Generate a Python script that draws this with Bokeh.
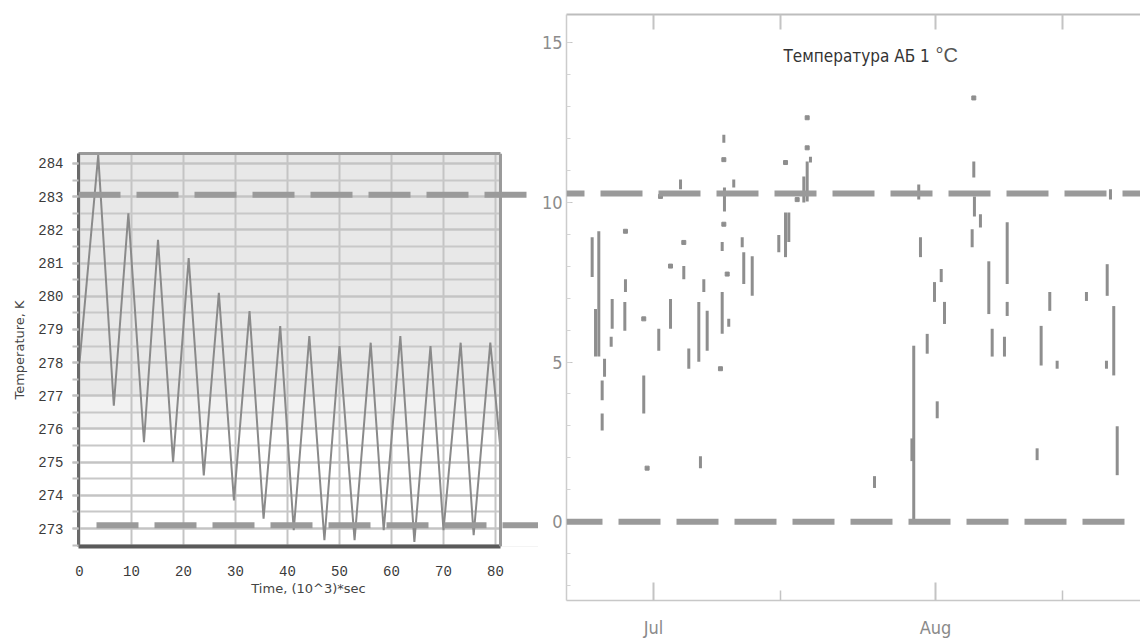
import numpy as np
import pandas as pd
from bokeh.plotting import figure
from bokeh.layouts import row
from bokeh.models import (Range1d, LinearAxis, FixedTicker, SingleIntervalTicker, Span,
                          Label, BoxAnnotation, DatetimeTickFormatter)
from bokeh.embed import file_html
from bokeh.resources import INLINE

# ---------------- left chart: temperature, K vs time (10^3 s) ----------------
time_1e3s = [0.0, 3.6, 6.6, 9.4, 12.4, 15.1, 18.0, 21.0, 23.9, 26.8, 29.7, 32.7, 35.4,
             38.6, 41.2, 44.2, 47.1, 50.0, 52.9, 56.0, 58.5, 61.7, 64.4, 67.5, 70.0,
             73.3, 75.8, 79.0, 80.9]
temp_K = [278.0, 284.25, 276.7, 282.5, 275.6, 281.7, 275.0, 281.15, 274.6, 280.1, 273.85,
          279.55, 273.3, 279.1, 272.95, 278.8, 272.65, 278.5, 272.65, 278.6, 272.95,
          278.8, 272.6, 278.5, 272.95, 278.6, 272.8, 278.6, 275.5]
ref_hi_K = 283.06
ref_lo_K = 273.10
ref_lo_start = 3.27

# ---------------- right chart: battery temperature, deg C ----------------
# days counted from 1 July
seg_day = [-6.74, -6.01, -6.37, -5.38, -5.64, -5.64, -4.54, -4.65, -3.08, -3.15, -1.07,
           0.58, 1.87, 2.97, 3.33, 3.88, 4.98, 5.16, 5.53, 5.90, 7.55, 7.73, 7.80, 7.55,
           8.27, 8.82, 9.75, 9.92, 10.85, 13.77, 14.51, 14.87, 16.52, 16.89, 17.25,
           24.29, 28.60, 28.40, 29.15, 29.34, 30.08, 31.18, 30.88, 31.62, 31.98, 35.20,
           35.27, 35.93, 35.02, 36.85, 37.22, 38.87, 38.87, 38.57, 42.16, 42.60, 43.55,
           44.36, 47.58, 49.86, 50.22, 50.58, 49.78, 50.96]
seg_hi = [8.90, 9.09, 6.66, 5.10, 4.42, 3.39, 6.97, 5.79, 7.59, 6.88, 4.58,
          6.04, 6.97, 10.71, 8.00, 5.42, 6.88, 2.05, 7.59, 6.60, 8.75, 12.11, 10.46, 7.19,
          6.35, 10.71, 8.90, 8.43, 8.31, 8.97, 9.68, 9.68, 10.80, 11.27, 11.42,
          1.43, 5.51, 2.61, 10.55, 8.90, 5.88, 3.77, 7.50, 7.91, 6.88, 11.27,
          10.18, 9.62, 9.15, 8.15, 6.04, 9.37, 6.88, 5.79, 2.30, 6.13, 7.19,
          5.04, 7.19, 8.06, 10.40, 6.75, 5.04, 2.99]
seg_lo = [7.66, 5.17, 5.17, 4.54, 3.80, 2.86, 6.04, 5.48, 7.19, 5.98, 3.39,
          5.35, 6.04, 10.40, 7.59, 4.79, 5.01, 1.68, 7.19, 5.35, 8.47, 11.86, 9.71, 5.88,
          6.10, 10.46, 8.59, 7.44, 7.07, 8.43, 8.28, 8.75, 9.99, 10.02, 11.24,
          1.06, 0.00, 1.90, 10.08, 8.28, 5.26, 3.24, 6.88, 7.50, 6.19, 10.77,
          9.55, 9.21, 8.59, 6.50, 5.17, 7.44, 6.44, 5.17, 1.93, 4.89, 6.60,
          4.79, 6.91, 7.07, 10.08, 4.58, 4.79, 1.46]
dot_day = [-3.08, -1.07, -0.70, 0.77, 1.87, 3.33, 7.36, 7.73, 7.73, 8.10, 14.51, 15.79,
           16.89, 16.89, 35.20]
dot_val = [9.09, 6.35, 1.68, 10.18, 8.00, 8.74, 4.79, 11.33, 9.31, 7.75, 11.24, 10.08,
           12.64, 11.70, 13.26]
ref_hi_C = 10.27
ref_lo_C = 0.0
month_start = "2013-07-01"
major_day = [0, 31]      # Jul 1, Aug 1
minor_day = [14, 45]     # Jul 15, Aug 15
title_text = "Температура АБ 1"
unit_text = "°C"

NARROW = "DejaVu Sans Condensed, Liberation Sans"
DASH_COLOR = "#9a9a9a"

# ======================= left figure =======================
x_end_left = 88.27
p1 = figure(width=538, height=606, x_range=Range1d(-0.19, x_end_left),
            y_range=Range1d(272.46, 284.30), output_backend="svg", toolbar_location=None,
            title=None, frame_align=False,
            min_border_left=78, min_border_right=0, min_border_top=153, min_border_bottom=60)
p1.outline_line_color = None
p1.background_fill_color = "white"

for b, t, c in [(277.0, 284.30, "#e8e8e8"), (276.0, 277.0, "#f2f2f2")]:
    p1.add_layout(BoxAnnotation(left=-0.19, right=80.96, bottom=b, top=t, fill_color=c,
                                fill_alpha=1, line_color=None, level="image"))

xa = p1.xaxis[0]
xa.bounds = (-0.19, 80.96)
xa.ticker = SingleIntervalTicker(interval=10, num_minor_ticks=0)
xa.axis_line_color = "#5a5a5a"
xa.axis_line_width = 4
xa.major_tick_line_color = None
xa.minor_tick_line_color = None
xa.major_label_text_font = "Liberation Mono"
xa.major_label_text_font_size = "14px"
xa.major_label_text_color = "#3a3a3a"
xa.major_label_standoff = 13
xa.axis_label = "Time, (10^3)*sec"
xa.axis_label_text_font = "DejaVu Sans"
xa.axis_label_text_font_size = "13px"
xa.axis_label_text_font_style = "normal"
xa.axis_label_text_color = "#444444"
xa.axis_label_standoff = 2

ya = p1.yaxis[0]
ya.ticker = SingleIntervalTicker(interval=1, num_minor_ticks=2)
ya.axis_line_color = "#6a6a6a"
ya.axis_line_width = 3
ya.major_tick_out = 6
ya.major_tick_in = 0
ya.minor_tick_out = 6
ya.minor_tick_in = 0
ya.major_tick_line_color = "#c0c0c0"
ya.minor_tick_line_color = "#c0c0c0"
ya.major_tick_line_width = 2
ya.minor_tick_line_width = 2
ya.major_label_text_font = "Liberation Mono"
ya.major_label_text_font_size = "14px"
ya.major_label_text_color = "#3a3a3a"
ya.major_label_standoff = 9
ya.axis_label = "Temperature, K"
ya.axis_label_text_font = "DejaVu Sans"
ya.axis_label_text_font_size = "13px"
ya.axis_label_text_font_style = "normal"
ya.axis_label_text_color = "#444444"
ya.axis_label_standoff = 8

p1.xgrid.grid_line_color = "#c4c4c4"
p1.xgrid.grid_line_width = 2
p1.ygrid.grid_line_color = "#c4c4c4"
p1.ygrid.grid_line_width = 2
p1.ygrid.minor_grid_line_color = "#c8c8c8"
p1.ygrid.minor_grid_line_width = 2

top_ax = LinearAxis(bounds=(-0.19, 80.96), ticker=FixedTicker(ticks=[]),
                    axis_line_color="#9a9a9a", axis_line_width=3,
                    major_tick_line_color=None, minor_tick_line_color=None)
p1.add_layout(top_ax, "above")

# cover the frame beyond the chart so only the dashed lines continue
p1.quad(left=[81.15], right=[x_end_left], bottom=[272.46], top=[284.30],
        fill_color="white", line_color=None)
p1.line(time_1e3s, temp_K, line_color="#8a8a8a", line_width=2)
p1.add_layout(Span(location=80.96, dimension="height", line_color="#9a9a9a", line_width=3))
p1.segment(x0=[ref_lo_start], y0=[ref_lo_K], x1=[x_end_left], y1=[ref_lo_K],
           line_color=DASH_COLOR, line_width=6, line_dash="42 16")
p1.add_layout(Span(location=ref_hi_K, dimension="width", line_color=DASH_COLOR,
                   line_width=6, line_dash="42 16"))

# ======================= right figure =======================
base_ms = pd.Timestamp(month_start).timestamp() * 1000.0
DAY = 86400000.0
to_ms = lambda d: base_ms + np.asarray(d, dtype=float) * DAY

p2 = figure(width=602, height=640, x_axis_type="datetime",
            x_range=Range1d(float(to_ms(-9.56)), float(to_ms(53.52))),
            y_range=Range1d(-2.46, 15.87), output_backend="svg", toolbar_location=None,
            title=None, frame_align=False,
            min_border_left=28, min_border_right=0, min_border_top=14, min_border_bottom=37)
p2.outline_line_color = None
p2.xgrid.visible = False
p2.ygrid.visible = False

fmt = DatetimeTickFormatter(microseconds="%b", milliseconds="%b", seconds="%b",
                            minsec="%b", minutes="%b", hourmin="%b", hours="%b",
                            days="%b", months="%b", years="%b")
bx = p2.below[0]
bx.ticker = FixedTicker(ticks=list(to_ms(major_day)), minor_ticks=list(to_ms(minor_day)))
bx.formatter = fmt
bx.axis_line_color = "#c8c8c8"
bx.axis_line_width = 1.5
bx.major_tick_in = 18
bx.major_tick_out = 0
bx.minor_tick_in = 10
bx.minor_tick_out = 0
bx.major_tick_line_color = "#c4c4c4"
bx.major_tick_line_width = 2
bx.minor_tick_line_color = "#c4c4c4"
bx.minor_tick_line_width = 1.5
bx.major_label_text_font = NARROW
bx.major_label_text_font_size = "18px"
bx.major_label_text_color = "#8a8a8a"
bx.major_label_standoff = 16

ly = p2.yaxis[0]
ly.ticker = SingleIntervalTicker(interval=5, num_minor_ticks=5)
ly.axis_line_color = "#cccccc"
ly.axis_line_width = 1.5
ly.major_tick_in = 6
ly.major_tick_out = 0
ly.minor_tick_in = 4
ly.minor_tick_out = 0
ly.major_tick_line_color = "#c4c4c4"
ly.minor_tick_line_color = "#d4d4d4"
ly.major_label_text_font = NARROW
ly.major_label_text_font_size = "18px"
ly.major_label_text_color = "#8c8c8c"
ly.major_label_standoff = 4

# top frame edge with inward ticks (no labels)
ta = LinearAxis(ticker=FixedTicker(ticks=[], minor_ticks=list(to_ms(major_day + minor_day))),
                axis_line_color="#bdbdbd", axis_line_width=2,
                major_tick_line_color=None, minor_tick_in=15, minor_tick_out=0,
                minor_tick_line_color="#c4c4c4", minor_tick_line_width=2)
p2.add_layout(ta, "above")

seg_x = to_ms(seg_day)
p2.segment(x0=seg_x, y0=seg_lo, x1=seg_x, y1=seg_hi, line_color="#8e8e8e", line_width=3)
p2.scatter(to_ms(dot_day), dot_val, marker="square", size=4, color="#8e8e8e")

p2.add_layout(Span(location=ref_hi_C, dimension="width", line_color=DASH_COLOR,
                   line_width=6, line_dash="42 16", line_dash_offset=24))
p2.add_layout(Span(location=ref_lo_C, dimension="width", line_color=DASH_COLOR,
                   line_width=6, line_dash="42 16", line_dash_offset=6))

p2.add_layout(Label(x=float(to_ms(14.29)), y=14.57, text=title_text, text_font=NARROW,
                    text_font_size="17px", text_color="#333333", text_baseline="middle"))
p2.add_layout(Label(x=float(to_ms(31.0)), y=14.6, text=unit_text, text_font="Liberation Sans",
                    text_font_size="20px", text_color="#555555", text_baseline="middle"))

layout = row(p1, p2)
open("out.html", "w").write(file_html(layout, INLINE))
